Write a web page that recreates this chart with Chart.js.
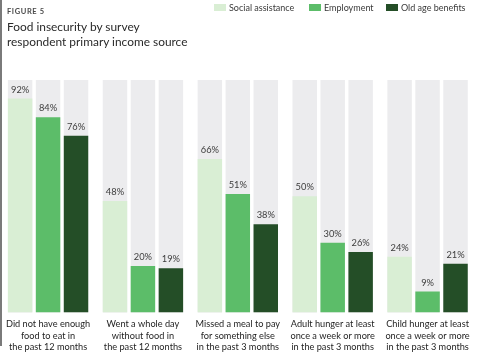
<!DOCTYPE html>
<html><head><meta charset="utf-8">
<script src="https://cdn.jsdelivr.net/npm/chart.js@4/dist/chart.umd.min.js"></script>
<style>
html,body{margin:0;padding:0;background:#fff;}
#wrap{position:relative;width:498px;height:357px;overflow:hidden;font-family:Lato,"DejaVu Sans",sans-serif;}
#edge{position:absolute;left:0;top:0;width:2px;height:346px;background:#7a7a7a;}
#fig{position:absolute;left:7px;top:7px;font-size:7.5px;font-weight:700;color:#4a4a4a;letter-spacing:0.6px;}
#title{position:absolute;left:7px;top:19px;font-size:11.9px;line-height:15px;color:#2a2a2a;}
.item{position:absolute;top:2px;font-size:9px;color:#3a3a3a;display:flex;align-items:center;white-space:nowrap;}
.sw{display:inline-block;width:12px;height:7px;margin-right:3px;}
canvas{position:absolute;left:0;top:0;}
</style></head>
<body><div id="wrap">
<canvas id="c" width="498" height="359"></canvas>
<div id="edge"></div>
<div id="fig">FIGURE 5</div>
<div id="title">Food insecurity by survey<br>respondent primary income source</div>
</div>
<script>
const categories = [
  ["Did not have enough", "food to eat in", "the past 12 months"],
  ["Went a whole day", "without food in", "the past 12 months"],
  ["Missed a meal to pay", "for something else", "in the past 3 months"],
  ["Adult hunger at least", "once a week or more", "in the past 3 months"],
  ["Child hunger at least", "once a week or more", "in the past 3 months"]
];
const seriesNames = ["Social assistance", "Employment", "Old age benefits"];
const socialAssistance = [92, 48, 66, 50, 24];
const employment = [84, 20, 51, 30, 9];
const oldAgeBenefits = [76, 19, 38, 26, 21];
const scaleMax = 100;

const colors = ["#d9eed4", "#5cbd69", "#244e27"];
const trackColor = "#ececee";
const seriesValues = [socialAssistance, employment, oldAgeBenefits];

// HTML legend
const legendLefts = [214, 309, 386];
const leg = document.getElementById('wrap');
seriesNames.forEach((n, i) => {
  const d = document.createElement('div');
  d.className = 'item';
  d.style.left = legendLefts[i] + 'px';
  d.innerHTML = '<span class="sw" style="background:' + colors[i] + '"></span><span>' + n + '</span>';
  leg.appendChild(d);
});

const trackPlugin = {
  id: 'track',
  beforeDatasetsDraw(chart) {
    const ctx = chart.ctx, y = chart.scales.y;
    const top = y.getPixelForValue(scaleMax);
    ctx.save();
    ctx.fillStyle = trackColor;
    chart.data.datasets.forEach((ds, i) => {
      chart.getDatasetMeta(i).data.forEach(el => {
        ctx.fillRect(el.x - el.width / 2, top, el.width, el.base - top);
      });
    });
    ctx.restore();
  }
};
const labelPlugin = {
  id: 'vlabels',
  afterDatasetsDraw(chart) {
    const ctx = chart.ctx;
    ctx.save();
    ctx.font = '9.3px Lato, "DejaVu Sans", sans-serif';
    ctx.fillStyle = '#3c3c3c';
    ctx.textAlign = 'center';
    ctx.textBaseline = 'middle';
    chart.data.datasets.forEach((ds, i) => {
      chart.getDatasetMeta(i).data.forEach((el, j) => {
        ctx.fillText(ds.data[j] + '%', el.x, el.y - 9);
      });
    });
    ctx.restore();
  }
};

new Chart(document.getElementById('c'), {
  type: 'bar',
  data: {
    labels: categories,
    datasets: seriesNames.map((n, i) => ({
      label: n, data: seriesValues[i], backgroundColor: colors[i], borderWidth: 0
    }))
  },
  options: {
    responsive: false, animation: false,
    layout: { padding: { left: 0, right: 23, top: 80, bottom: 0 } },
    datasets: { bar: { categoryPercentage: 0.884, barPercentage: 0.875 } },
    plugins: { legend: { display: false }, tooltip: { enabled: false } },
    scales: {
      x: {
        grid: { display: false, drawTicks: false }, border: { display: false },
        ticks: { color: '#1e1e1e', padding: 6, maxRotation: 0, autoSkip: false,
          font: { family: 'Lato, "DejaVu Sans", sans-serif', size: 9.2, lineHeight: 1.25 } }
      },
      y: { display: false, min: 0, max: scaleMax }
    }
  },
  plugins: [trackPlugin, labelPlugin]
});
</script>
</body></html>
